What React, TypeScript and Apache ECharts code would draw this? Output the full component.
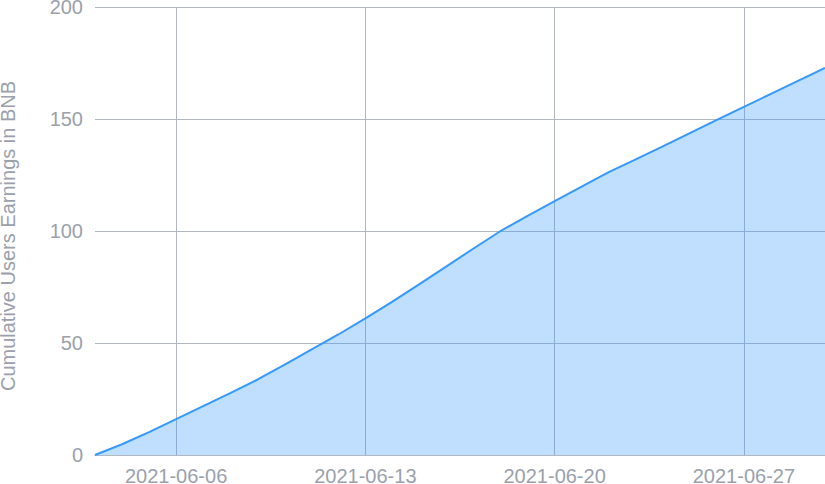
import React, { useEffect, useRef } from "react";
import * as echarts from "echarts";

const dates = [
  "2021-06-03", "2021-06-04", "2021-06-05", "2021-06-06", "2021-06-07", "2021-06-08", "2021-06-09",
  "2021-06-10", "2021-06-11", "2021-06-12", "2021-06-13", "2021-06-14", "2021-06-15", "2021-06-16",
  "2021-06-17", "2021-06-18", "2021-06-19", "2021-06-20", "2021-06-21", "2021-06-22", "2021-06-23",
  "2021-06-24", "2021-06-25", "2021-06-26", "2021-06-27", "2021-06-28", "2021-06-29", "2021-06-30",
];

const earnings = [
  0, 4.8, 10.2, 16, 21.8, 27.6, 33.6,
  40.2, 47, 53.8, 61, 68.5, 76.3, 84.2,
  92.2, 100, 106.8, 113.3, 119.8, 126.3, 132,
  137.8, 143.7, 149.6, 155.4, 161.2, 167, 172.8,
];

const yTicks = { min: 0, max: 200, interval: 50 };
const yName = "Cumulative Users Earnings in BNB";

const labelColor = "#9aa1ac";
const gridColor = "#b2b7c0";
const font = "'Liberation Sans', Arial, Helvetica, sans-serif";

export default function App() {
  const ref = useRef<HTMLDivElement>(null);
  useEffect(() => {
    if (!ref.current) return;
    const chart = echarts.init(ref.current, undefined, { renderer: "svg" });
    const showIdx = (i: number) => i >= 3 && (i - 3) % 7 === 0;
    chart.setOption({
      animation: false,
      grid: { left: 95, right: 0, top: 7, bottom: 29, containLabel: false, outerBoundsMode: "none" },
      xAxis: {
        type: "category",
        data: dates,
        boundaryGap: false,
        axisLine: { show: true, lineStyle: { color: gridColor, width: 1 } },
        axisTick: { show: false },
        axisLabel: {
          interval: (i: number) => showIdx(i),
          color: labelColor,
          fontSize: 20,
          fontFamily: font,
          margin: 11,
        },
        splitLine: {
          show: true,
          interval: (i: number) => showIdx(i),
          lineStyle: { color: gridColor, width: 1 },
        },
      },
      yAxis: {
        type: "value",
        min: yTicks.min,
        max: yTicks.max,
        interval: yTicks.interval,
        name: yName,
        nameLocation: "middle",
        nameGap: 77,
        nameTextStyle: { color: labelColor, fontSize: 20, fontFamily: font, padding: [0, 10, 0, 0] },
        axisLine: { show: false },
        axisTick: { show: false },
        axisLabel: { color: labelColor, fontSize: 20, fontFamily: font, margin: 12 },
        splitLine: { show: true, lineStyle: { color: gridColor, width: 1 } },
      },
      series: [
        {
          type: "line",
          data: earnings,
          symbol: "none",
          smooth: false,
          lineStyle: { color: "#3399ff", width: 2 },
          areaStyle: { color: "rgba(51,153,255,0.31)", opacity: 1 },
          z: 3,
        },
      ],
    });
    return () => chart.dispose();
  }, []);
  return (
    <div
      ref={ref}
      style={{ position: "fixed", left: 0, top: 0, width: 825, height: 484, background: "#fff" }}
    />
  );
}
